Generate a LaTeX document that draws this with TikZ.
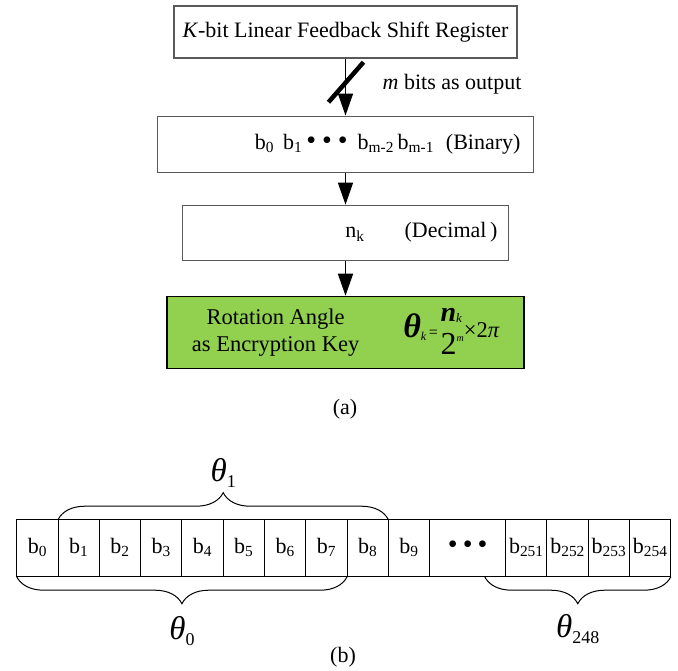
\documentclass[tikz,border=0pt]{standalone}
\usepackage{fontspec}
\setmainfont{Liberation Serif}
\usetikzlibrary{matrix,arrows.meta,calc,positioning,decorations.pathreplacing}

\definecolor{keygreen}{HTML}{92D050}
\newcommand{\bit}[1]{b\textsubscript{#1}}
\newcommand{\bigdot}{{\fontsize{28}{28}\selectfont\textbullet}}
\newcommand{\anglbl}[1]{{\fontsize{33}{33}\selectfont\itshape θ}\raisebox{-6pt}{\fontsize{18}{18}\selectfont #1}}
\newcommand{\keyrule}{%
  {\fontsize{34}{34}\selectfont\bfseries\itshape θ}\raisebox{-3pt}{\fontsize{12}{12}\selectfont\itshape k}%
  {\fontsize{16}{16}\selectfont\,=\,}%
  \begin{tabular}{@{}l@{}}
    {\fontsize{28}{28}\selectfont\bfseries\itshape n}\raisebox{-1pt}{\fontsize{13}{13}\selectfont\itshape k}\\[4pt]
    {\fontsize{32}{32}\selectfont 2}\raisebox{13pt}{\fontsize{10}{10}\selectfont\itshape m}
  \end{tabular}%
  ×2{\itshape π}}

\tikzset{
  stage/.style={draw=black!65, line width=1.1pt, inner sep=0pt, font=\fontsize{22}{26}\selectfont},
  flow/.style={line width=1.4pt, -{Triangle[length=22pt,width=15pt]}},
  slash/.style={line width=4.5pt},
  lbl/.style={inner sep=0pt, font=\fontsize{22}{26}\selectfont},
  cell/.style={draw, line width=1pt, minimum width=41.3pt, minimum height=57pt, inner sep=0pt,
    outer sep=0pt, text height=14pt, text depth=4pt, anchor=center, font=\fontsize{22}{26}\selectfont},
  curly/.style={decorate, decoration={brace, amplitude=27pt}, line width=1pt},
}

\begin{document}
\begin{tikzpicture}[x=1pt, y=-1pt]
  \useasboundingbox (0,0) rectangle (678,671);

  \node[stage, minimum width=343pt, minimum height=52pt] (lfsr) at (345.5,32)
    {\textit{K}-bit Linear Feedback Shift Register};
  \node[stage, below=57pt of lfsr, text width=350pt, inner xsep=13pt, align=right, minimum height=56pt] (binary)
    {\bit{0}\hspace{9pt}\bit{1}\hspace{4pt}\bigdot\hspace{6pt}\bigdot\hspace{6pt}\bigdot\hspace{10pt}\bit{m-2}\,\bit{m-1}\hspace{12pt}(Binary)};
  \node[stage, below=32pt of binary, text width=304pt, inner xsep=11pt, align=right, minimum height=55pt] (decimal)
    {n\textsubscript{k}\hspace{40pt}(Decimal\,)};
  \node[stage, below=35pt of decimal, draw=black, fill=keygreen, minimum width=357pt, minimum height=72pt,
    font=\fontsize{22.5}{27}\selectfont] (key)
    {\begin{tabular}{@{}c@{}}Rotation Angle\\as Encryption Key\end{tabular}\hspace{44pt}\keyrule};

  \draw[flow] (lfsr.south) -- (binary.north);
  \draw[flow] (binary.south) -- (decimal.north);
  \draw[flow] (decimal.south) -- (key.north);

  \coordinate (tap) at ($(lfsr.south)!0.45!(binary.north)$);
  \draw[slash] ($(tap)+(-17,18)$) -- ($(tap)+(18,-22)$);
  \node[lbl, right=37pt of tap] (mbits) {\textit{m} bits as output};

  \node[lbl] (capa) at (345,409) {(a)};

  \matrix (reg) [matrix of nodes, nodes={cell}, column sep=-1pt, inner sep=0pt, anchor=north west] at (16,519)
  {
    \bit{0} & \bit{1} & \bit{2} & \bit{3} & \bit{4} & \bit{5} & \bit{6} & \bit{7} & \bit{8} & \bit{9} &
    |[minimum width=76pt]| \bigdot\hspace{5pt}\bigdot\hspace{5pt}\bigdot &
    \bit{251} & \bit{252} & \bit{253} & \bit{254} \\
  };

  \draw[curly] (reg-1-2.north west) -- node[lbl, above=32pt] (th1) {\anglbl{1}} (reg-1-9.north east);
  \draw[curly] (reg-1-8.south east) -- node[lbl, below=39pt] (th0) {\anglbl{0}} (reg-1-1.south west);
  \draw[curly] (reg-1-15.south east) -- node[lbl, below=37pt] (th248) {\anglbl{248}}
    ($(reg-1-11.south east)+(-21,0)$);

  \node[lbl] (capb) at (343,657) {(b)};
\end{tikzpicture}
\end{document}
